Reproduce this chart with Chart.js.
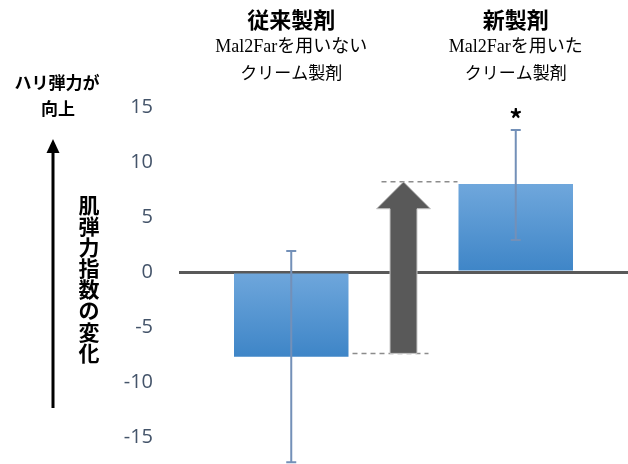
<!DOCTYPE html>
<html>
<head>
<meta charset="utf-8">
<script src="https://cdn.jsdelivr.net/npm/chart.js@4/dist/chart.umd.min.js"></script>
<style>
  html, body { margin: 0; padding: 0; background: #fff; }
  #wrap { width: 628px; height: 464px; position: relative; }
</style>
</head>
<body>
<div id="wrap"><canvas id="skin"></canvas></div>
<script>
const categories = ["従来製剤", "新製剤"];
const subLabels = [["Mal2Farを用いない", "クリーム製剤"], ["Mal2Farを用いた", "クリーム製剤"]];
const changeValues = [-7.7, 8.0];
const errorHigh = [1.9, 12.9];
const errorLow = [-17.3, 2.9];
const marks = ["", "*"];
const arrowRange = [-7.4, 8.2];
const yTicks = [-15, -10, -5, 0, 5, 10, 15];

const JP = '"Noto Sans CJK JP", "Noto Sans", sans-serif';

const decorations = {
  id: "decorations",
  afterDatasetsDraw(chart) {
    const { ctx } = chart;
    const x = chart.scales.x;
    const y = chart.scales.y;
    ctx.save();

    // error bars
    ctx.strokeStyle = "#7390b8";
    ctx.lineWidth = 2;
    changeValues.forEach((v, i) => {
      const cx = x.getPixelForValue(i);
      const hi = y.getPixelForValue(errorHigh[i]);
      const lo = y.getPixelForValue(errorLow[i]);
      ctx.beginPath();
      ctx.moveTo(cx, hi); ctx.lineTo(cx, lo);
      ctx.moveTo(cx - 5, hi); ctx.lineTo(cx + 5, hi);
      ctx.moveTo(cx - 5, lo); ctx.lineTo(cx + 5, lo);
      ctx.stroke();
      if (marks[i]) {
        ctx.fillStyle = "#000";
        ctx.font = "bold 26px " + JP;
        ctx.textAlign = "center";
        ctx.textBaseline = "middle";
        ctx.fillText(marks[i], cx, hi - 11);
      }
    });

    // arrow between the bars
    const ax = (x.getPixelForValue(0) + x.getPixelForValue(1)) / 2;
    const tip = y.getPixelForValue(arrowRange[1]);
    const base = y.getPixelForValue(arrowRange[0]);
    const headLen = 27, shaft = 13.5, head = 27;

    ctx.strokeStyle = "#8c8c8c";
    ctx.lineWidth = 1.5;
    ctx.setLineDash([5, 4]);
    ctx.beginPath();
    ctx.moveTo(ax - 22, tip); ctx.lineTo(ax + 54, tip);
    ctx.moveTo(ax - 51, base); ctx.lineTo(ax + 25, base);
    ctx.stroke();
    ctx.setLineDash([]);

    ctx.beginPath();
    ctx.moveTo(ax, tip);
    ctx.lineTo(ax + head, tip + headLen);
    ctx.lineTo(ax + shaft, tip + headLen);
    ctx.lineTo(ax + shaft, base);
    ctx.lineTo(ax - shaft, base);
    ctx.lineTo(ax - shaft, tip + headLen);
    ctx.lineTo(ax - head, tip + headLen);
    ctx.closePath();
    ctx.fillStyle = "#595959";
    ctx.fill();
    ctx.strokeStyle = "#c8c8c8";
    ctx.lineWidth = 1;
    ctx.stroke();

    // headers
    ctx.textAlign = "center";
    ctx.textBaseline = "middle";
    categories.forEach((c, i) => {
      const cx = x.getPixelForValue(i);
      ctx.fillStyle = "#000";
      ctx.font = "bold 22px " + JP;
      ctx.fillText(c, cx, 20);
      ctx.font = '18px "Liberation Serif", "Noto Sans CJK JP", serif';
      ctx.fillText(subLabels[i][0], cx, 47);
      ctx.font = "17px " + JP;
      ctx.fillText(subLabels[i][1], cx, 73);
    });

    // left annotation
    ctx.font = "bold 17px " + JP;
    ctx.fillText("ハリ弾力が", 57, 83);
    ctx.fillText("向上", 58, 109);

    ctx.strokeStyle = "#000";
    ctx.lineWidth = 3;
    ctx.beginPath();
    ctx.moveTo(53, 408); ctx.lineTo(53, 150);
    ctx.stroke();
    ctx.beginPath();
    ctx.moveTo(53, 139); ctx.lineTo(59.5, 153); ctx.lineTo(46.5, 153);
    ctx.closePath();
    ctx.fillStyle = "#000";
    ctx.fill();

    ctx.font = "bold 21px " + JP;
    "肌弾力指数の変化".split("").forEach((ch, k) => {
      ctx.fillText(ch, 89, 205 + k * 21.1);
    });

    ctx.restore();
  }
};

new Chart(document.getElementById("skin"), {
  type: "bar",
  data: {
    labels: categories,
    datasets: [{
      data: changeValues,
      backgroundColor: (c) => {
        const chart = c.chart;
        if (!chart.chartArea || c.dataIndex === undefined) return "#4f90d0";
        const y = chart.scales.y;
        const v = changeValues[c.dataIndex];
        const top = y.getPixelForValue(Math.max(v, 0));
        const bot = y.getPixelForValue(Math.min(v, 0));
        const g = chart.ctx.createLinearGradient(0, top, 0, bot);
        g.addColorStop(0, "#6fa7dc");
        g.addColorStop(1, "#3e85c7");
        return g;
      },
      borderWidth: 0,
      categoryPercentage: 1,
      barPercentage: 0.51
    }]
  },
  options: {
    responsive: true,
    maintainAspectRatio: false,
    animation: false,
    layout: { padding: { top: 85, bottom: 5, left: 0, right: 0 } },
    plugins: { legend: { display: false }, tooltip: { enabled: false } },
    scales: {
      x: { display: false },
      y: {
        min: -17,
        max: 17,
        afterBuildTicks: (s) => { s.ticks = yTicks.map((v) => ({ value: v })); },
        afterFit: (s) => {
          s.width = 179;
          s.paddingTop = 0;
          s.paddingBottom = 0;
        },
        border: { display: false },
        grid: {
          drawTicks: false,
          color: (c) => (c.tick && c.tick.value === 0 ? "#595959" : "rgba(0,0,0,0)"),
          lineWidth: (c) => (c.tick && c.tick.value === 0 ? 3 : 0)
        },
        ticks: {
          padding: 26,
          color: "#44546a",
          font: { family: '"Open Sans", "Liberation Sans", sans-serif', size: 20 }
        }
      }
    }
  },
  plugins: [decorations]
});
</script>
</body>
</html>
